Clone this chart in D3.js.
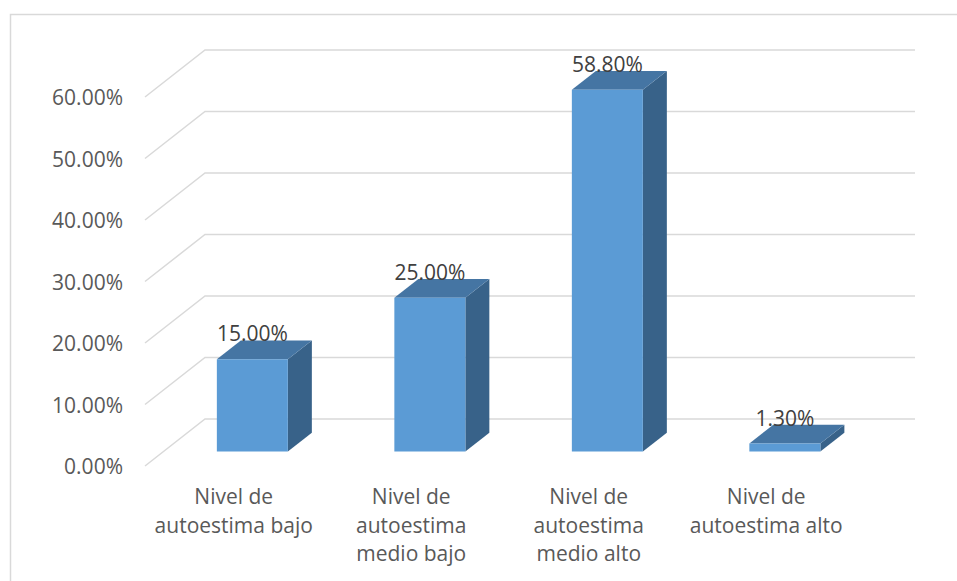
<!DOCTYPE html>
<html>
<head>
<meta charset="utf-8">
<script src="https://cdn.jsdelivr.net/npm/d3@7"></script>
<style>
  html, body { margin: 0; padding: 0; background: #fff; }
  svg { display: block; }
  text { font-family: "Open Sans", "Noto Sans", sans-serif; }
</style>
</head>
<body>
<svg id="chart" width="957" height="581"></svg>
<script>
// Categories (each entry holds its wrapped label lines)
const categories = [
  ["Nivel de", "autoestima bajo"],
  ["Nivel de", "autoestima", "medio bajo"],
  ["Nivel de", "autoestima", "medio alto"],
  ["Nivel de", "autoestima alto"]
];
// Share of respondents per level
const values = [0.15, 0.25, 0.588, 0.013];
const valueLabels = ["15.00%", "25.00%", "58.80%", "1.30%"];
// Value axis ticks
const tickValues = [0, 0.1, 0.2, 0.3, 0.4, 0.5, 0.6];

const svg = d3.select("#chart");
const W = 957, H = 581;
const FS = 21;

// Oblique projection: front plane + depth vector
const depthX = 60, depthY = -47;
const barDepthStart = 0.31, barDepth = 0.4;

const x = d3.scaleBand()
  .domain(d3.range(categories.length))
  .range([145, 855])
  .paddingInner(0.6)
  .paddingOuter(0.3);

const y = d3.scaleLinear().domain([0, 0.6]).range([466, 97]);

const proj = (px, v, d) => [px + d * depthX, y(v) + d * depthY];

// Outer frame (top and left edges visible)
svg.append("path")
  .attr("d", `M10.5,${H} L10.5,14.5 L${W},14.5`)
  .attr("fill", "none")
  .attr("stroke", "#D9D9D9")
  .attr("stroke-width", 1.5);

// Gridlines: slanted side-wall segment + horizontal back-wall segment
const grid = svg.append("g").attr("fill", "none").attr("stroke", "#D9D9D9").attr("stroke-width", 1.5);
tickValues.forEach(t => {
  const f = proj(145, t, 0);
  const b = proj(145, t, 1);
  const e = proj(855, t, 1);
  grid.append("path").attr("d", `M${f[0]},${f[1]} L${b[0]},${b[1]} L${e[0]},${e[1]}`);
});

// Value axis labels
const fmt = d3.format(".2%");
svg.append("g").selectAll("text")
  .data(tickValues)
  .join("text")
  .attr("x", 123)
  .attr("y", d => y(d) + 8)
  .attr("text-anchor", "end")
  .attr("font-size", FS)
  .attr("fill", "#595959")
  .text(d => fmt(d));

// 3D columns
const bars = svg.append("g");
values.forEach((v, i) => {
  const x0 = x(i), x1 = x(i) + x.bandwidth();
  const d0 = barDepthStart, d1 = barDepthStart + barDepth;
  const p = (px, val, d) => proj(px, val, d).join(",");
  // side face
  bars.append("path")
    .attr("d", `M${p(x1, 0, d0)} L${p(x1, 0, d1)} L${p(x1, v, d1)} L${p(x1, v, d0)} Z`)
    .attr("fill", "#386289");
  // top face
  bars.append("path")
    .attr("d", `M${p(x0, v, d0)} L${p(x1, v, d0)} L${p(x1, v, d1)} L${p(x0, v, d1)} Z`)
    .attr("fill", "#4575A3");
  // front face
  bars.append("path")
    .attr("d", `M${p(x0, 0, d0)} L${p(x1, 0, d0)} L${p(x1, v, d0)} L${p(x0, v, d0)} Z`)
    .attr("fill", "#5B9BD5");
  // value label, centred over the front face, sitting on the back edge of the top
  const c = proj(x0 + x.bandwidth() / 2, v, d1);
  bars.append("text")
    .attr("x", c[0] - barDepth * depthX)
    .attr("y", c[1] + 1)
    .attr("text-anchor", "middle")
    .attr("font-size", FS)
    .attr("fill", "#404040")
    .text(valueLabels[i]);
});

// Category labels
const cat = svg.append("g");
categories.forEach((lines, i) => {
  const cx = x(i) + x.bandwidth() / 2;
  const t = cat.append("text")
    .attr("text-anchor", "middle")
    .attr("font-size", FS)
    .attr("fill", "#595959");
  lines.forEach((ln, k) => {
    t.append("tspan").attr("x", cx).attr("y", 504 + k * 28.5).text(ln);
  });
});
</script>
</body>
</html>
